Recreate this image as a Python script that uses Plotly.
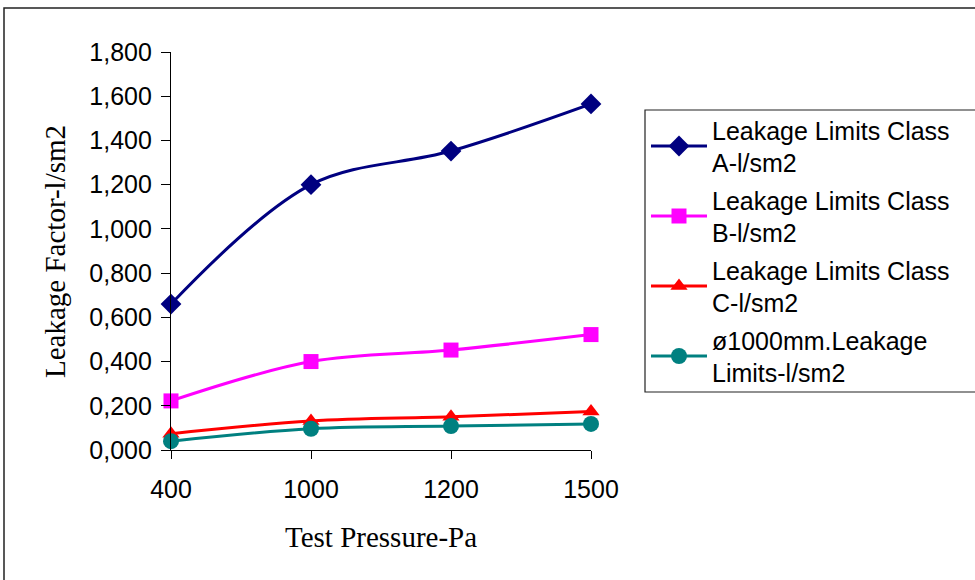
import plotly.graph_objects as go

# Test pressures (Pa), shown as evenly spaced categories
pressures = ["400", "1000", "1200", "1500"]

# Leakage factor (l/s·m²) per class
class_a = [0.66, 1.20, 1.352, 1.565]
class_b = [0.222, 0.400, 0.452, 0.522]
class_c = [0.074, 0.131, 0.150, 0.174]
d1000 = [0.040, 0.096, 0.108, 0.118]

series_names = [
    "Leakage Limits Class<br>A-l/sm2",
    "Leakage Limits Class<br>B-l/sm2",
    "Leakage Limits Class<br>C-l/sm2",
    "ø1000mm.Leakage<br>Limits-l/sm2",
]
series_values = [class_a, class_b, class_c, d1000]
series_colors = ["#000080", "#FF00FF", "#FF0000", "#008080"]
series_symbols = ["diamond", "square", "triangle-up", "circle"]
series_sizes = [16, 15, 15, 16]

y_ticks = [0, 0.2, 0.4, 0.6, 0.8, 1.0, 1.2, 1.4, 1.6, 1.8]

W, H = 975, 580
L, R, T, B = 171, 384, 52, 130
PW, PH = W - L - R, H - T - B


def px_x(p):
    return (p - L) / PW


def px_y(p):
    return (H - B - p) / PH


fig = go.Figure()
for i, (name, vals) in enumerate(zip(series_names, series_values)):
    fig.add_trace(go.Scatter(
        x=pressures, y=vals, name=name, mode="lines+markers",
        line=dict(color=series_colors[i], width=3, shape="spline", smoothing=1),
        marker=dict(symbol=series_symbols[i], size=series_sizes[i],
                    color=series_colors[i], line=dict(width=0)),
        cliponaxis=False, legendgroup=f"g{i}",
    ))

tick_font = dict(family="Liberation Sans, Arial, sans-serif", size=25, color="black")
title_font = dict(family="Liberation Serif, Times New Roman, serif", size=29, color="black")

fig.update_layout(
    width=W, height=H,
    margin=dict(l=L, r=R, t=T, b=B, pad=0),
    paper_bgcolor="white", plot_bgcolor="white",
    separators=",.",
    showlegend=True,
    legend=dict(
        x=px_x(646), y=px_y(107), xanchor="left", yanchor="top",
        font=dict(family="Liberation Sans, Arial, sans-serif", size=25, color="black"),
        bgcolor="rgba(0,0,0,0)", borderwidth=0,
        itemwidth=56, tracegroupgap=2,
    ),
    xaxis=dict(
        type="category", range=[0, 3], showgrid=False, zeroline=False,
        showline=True, linecolor="black", linewidth=1.2,
        ticks="outside", ticklen=8, tickwidth=1.2, tickcolor="black",
        tickfont=tick_font, ticklabelstandoff=9,
    ),
    xaxis2=dict(
        overlaying="x", range=[0, 3], tickvals=[0, 1, 2, 3], showgrid=False,
        zeroline=False, showline=False, showticklabels=False,
        ticks="inside", ticklen=8, tickwidth=1.2, tickcolor="black",
    ),
    yaxis=dict(
        range=[0, 1.8], tickvals=y_ticks, tickformat=".3f", showgrid=False,
        zeroline=False, showline=True, linecolor="black", linewidth=1.2,
        ticks="outside", ticklen=9, tickwidth=1.2, tickcolor="black",
        tickfont=tick_font, ticklabelstandoff=4,
    ),
    yaxis2=dict(
        overlaying="y", range=[0, 1.8], tickvals=y_ticks, showgrid=False,
        zeroline=False, showline=False, showticklabels=False,
        ticks="inside", ticklen=9, tickwidth=1.2, tickcolor="black",
    ),
    shapes=[
        # outer chart frame
        dict(type="rect", xref="paper", yref="paper",
             x0=px_x(4), x1=px_x(1000), y0=px_y(620), y1=px_y(8),
             line=dict(color="#222222", width=1.5), fillcolor="rgba(0,0,0,0)"),
        # legend frame
        dict(type="rect", xref="paper", yref="paper",
             x0=px_x(645), x1=px_x(1000), y0=px_y(392), y1=px_y(110),
             line=dict(color="#222222", width=1.2), fillcolor="rgba(0,0,0,0)"),
    ],
    annotations=[
        dict(text="Leakage Factor-l/sm2", xref="paper", yref="paper",
             x=px_x(55), y=px_y(251), textangle=-90, showarrow=False,
             xanchor="center", yanchor="middle", font=title_font),
        dict(text="Test Pressure-Pa", xref="paper", yref="paper",
             x=px_x(381), y=px_y(537), showarrow=False,
             xanchor="center", yanchor="middle", font=title_font),
    ],
)

fig.write_html("out.html")
